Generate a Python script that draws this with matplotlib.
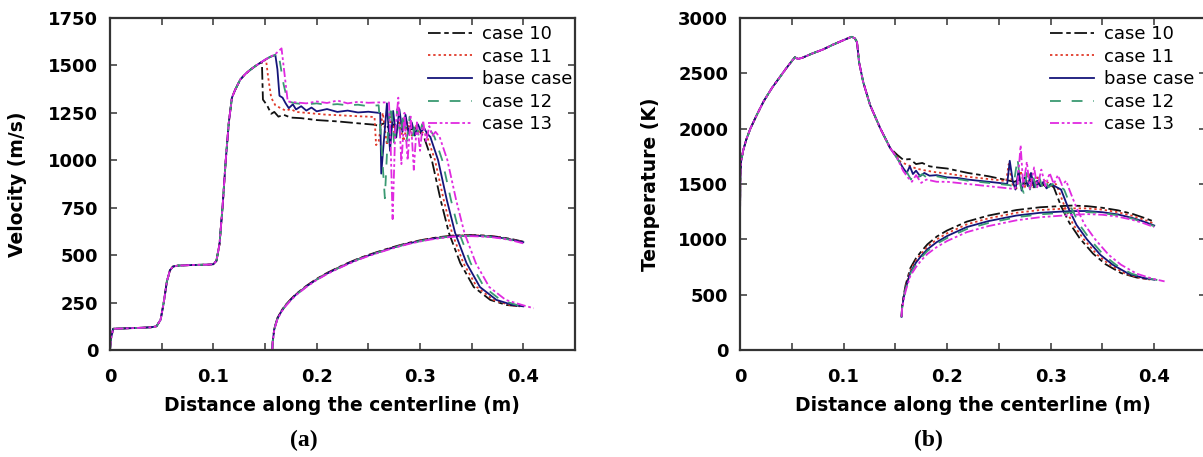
import matplotlib
matplotlib.use("Agg")
import matplotlib.pyplot as plt

# ---------------- data ----------------
labels = ["case 10", "case 11", "base case", "case 12", "case 13"]

# Velocity (panel a): shared upstream part
vx_pre = [0.0, 0.001, 0.003, 0.01, 0.02, 0.03, 0.04, 0.045, 0.049, 0.052, 0.055, 0.058, 0.061,
          0.066, 0.08, 0.095, 0.1, 0.103, 0.106, 0.109, 0.112, 0.115, 0.118, 0.121, 0.126,
          0.131, 0.136, 0.141, 0.145]
vy_pre = [0, 60, 112, 113, 115, 117, 120, 125, 160, 250, 360, 420, 440, 445, 448, 450, 452,
          470, 560, 760, 1000, 1200, 1330, 1370, 1425, 1455, 1478, 1498, 1512]

vx_c10 = [0.147, 0.148, 0.152, 0.156, 0.159, 0.163, 0.168, 0.175, 0.185, 0.2, 0.22, 0.24, 0.255,
          0.26, 0.265, 0.27, 0.275, 0.28, 0.285, 0.29, 0.295, 0.3, 0.304, 0.3115, 0.32, 0.328,
          0.339, 0.352, 0.368, 0.384, 0.394]
vy_c10 = [1518, 1320, 1290, 1245, 1255, 1230, 1240, 1225, 1222, 1212, 1205, 1195, 1188, 1182,
          1195, 1170, 1190, 1165, 1180, 1160, 1172, 1150, 1120, 1000, 790, 617, 458, 332, 264,
          237, 232]

vx_c11 = [0.148, 0.151, 0.153, 0.156, 0.16, 0.165, 0.17, 0.175, 0.18, 0.19, 0.2, 0.21, 0.22, 0.23,
          0.24, 0.25, 0.256, 0.2575, 0.26, 0.264, 0.268, 0.272, 0.276, 0.28, 0.284, 0.288, 0.292,
          0.296, 0.3, 0.304, 0.307, 0.3145, 0.323, 0.331, 0.342, 0.355, 0.371, 0.387, 0.397]
vy_c11 = [1520, 1530, 1440, 1330, 1290, 1275, 1262, 1270, 1255, 1250, 1245, 1240, 1238, 1235,
          1232, 1230, 1228, 1080, 1100, 1250, 1080, 1230, 1120, 1210, 1100, 1200, 1130, 1180,
          1140, 1150, 1123, 1001, 790, 617, 458, 332, 264, 237, 230]

vx_base = [0.15, 0.155, 0.16, 0.162, 0.164, 0.167, 0.17, 0.173, 0.177, 0.18, 0.185, 0.19, 0.195,
           0.2, 0.21, 0.22, 0.23, 0.24, 0.25, 0.26, 0.2615, 0.2625, 0.265, 0.268, 0.271, 0.274,
           0.277, 0.28, 0.283, 0.286, 0.289, 0.292, 0.295, 0.298, 0.301, 0.304, 0.307, 0.31,
           0.3175, 0.326, 0.334, 0.345, 0.358, 0.374, 0.39, 0.4]
vy_base = [1530, 1545, 1555, 1480, 1340, 1330, 1300, 1275, 1295, 1268, 1285, 1262, 1278, 1258,
           1270, 1255, 1262, 1252, 1256, 1250, 1250, 930, 1100, 1300, 1050, 1260, 1120, 1270,
           1150, 1240, 1140, 1200, 1130, 1190, 1150, 1170, 1140, 1123, 1001, 790, 617, 458, 332,
           264, 237, 230]

vx_c12 = [0.15, 0.155, 0.16, 0.163, 0.168, 0.172, 0.18, 0.19, 0.2, 0.21, 0.22, 0.23, 0.24, 0.25,
          0.26, 0.263, 0.266, 0.269, 0.272, 0.275, 0.278, 0.281, 0.284, 0.287, 0.29, 0.293,
          0.296, 0.299, 0.302, 0.305, 0.308, 0.311, 0.314, 0.3215, 0.33, 0.338, 0.349, 0.362,
          0.378, 0.394, 0.403]
vy_c12 = [1530, 1545, 1555, 1565, 1400, 1310, 1300, 1295, 1300, 1292, 1296, 1290, 1293, 1285,
          1290, 1050, 800, 1150, 1290, 1080, 1270, 1120, 1250, 1100, 1230, 1130, 1210, 1120,
          1190, 1150, 1170, 1150, 1123, 1001, 790, 617, 458, 332, 264, 237, 228]

vx_c13 = [0.15, 0.155, 0.16, 0.166, 0.169, 0.172, 0.18, 0.19, 0.2, 0.21, 0.22, 0.23, 0.24, 0.25,
          0.26, 0.27, 0.2715, 0.2735, 0.276, 0.279, 0.282, 0.285, 0.288, 0.291, 0.294, 0.297,
          0.3, 0.303, 0.306, 0.309, 0.312, 0.315, 0.319, 0.3265, 0.335, 0.343, 0.354, 0.367,
          0.383, 0.399, 0.41]
vy_c13 = [1530, 1545, 1560, 1590, 1450, 1310, 1305, 1300, 1310, 1302, 1315, 1300, 1308, 1303,
          1305, 1305, 1100, 690, 1150, 1330, 980, 1250, 1000, 1230, 950, 1200, 1050, 1210, 1100,
          1180, 1130, 1150, 1123, 1001, 790, 617, 458, 332, 264, 237, 220]

# Velocity lower branch
vx_low = [0.157, 0.1575, 0.159, 0.162, 0.166, 0.17, 0.175, 0.18, 0.19, 0.2, 0.21, 0.22, 0.23,
          0.24, 0.25, 0.26, 0.27, 0.28, 0.29, 0.3, 0.31, 0.32, 0.33, 0.34, 0.35, 0.36, 0.37,
          0.38, 0.39, 0.4]
vlow_c10 = [0, 47, 113, 168, 208, 238, 268, 295, 338, 375, 406, 433, 458, 481, 501, 519, 536,
            552, 566, 578, 588, 596, 602, 605, 606, 604, 600, 593, 583, 571]
vlow_c11 = [0, 46, 112, 167, 207, 237, 267, 294, 337, 374, 405, 432, 457, 480, 500, 518, 535,
            551, 565, 577, 587, 595, 601, 604, 605, 603, 599, 592, 582, 570]
vlow_base = [0, 45, 110, 165, 205, 235, 265, 292, 335, 372, 403, 430, 455, 478, 498, 516, 533,
             549, 563, 575, 585, 593, 599, 602, 603, 601, 597, 590, 580, 568]
vlow_c12 = [0, 44, 109, 164, 204, 234, 264, 291, 334, 371, 402, 429, 454, 477, 497, 515, 532,
            548, 562, 574, 584, 592, 598, 601, 602, 600, 596, 589, 578, 565]
vlow_c13 = [0, 43, 108, 162, 202, 232, 262, 289, 332, 369, 400, 427, 452, 475, 495, 513, 530,
            546, 560, 572, 582, 590, 596, 599, 600, 598, 594, 587, 576, 562]

# Temperature (panel b): shared upstream part
tx_pre = [0.0, 0.0003, 0.001, 0.003, 0.006, 0.01, 0.016, 0.023, 0.031, 0.038, 0.045, 0.05,
          0.053, 0.056, 0.06, 0.07, 0.08, 0.09, 0.1, 0.105, 0.108, 0.111, 0.113, 0.115, 0.119,
          0.1256, 0.1353, 0.145]
ty_pre = [1150, 1550, 1700, 1800, 1900, 2000, 2120, 2250, 2370, 2460, 2550, 2610, 2645, 2630,
          2640, 2680, 2715, 2760, 2800, 2820, 2830, 2815, 2780, 2600, 2420, 2214, 2006, 1825]

tx_c10 = [0.152, 0.1575, 0.164, 0.17, 0.176, 0.183, 0.19, 0.2, 0.21, 0.22, 0.23, 0.24, 0.25,
          0.26, 0.265, 0.27, 0.275, 0.28, 0.285, 0.29, 0.295, 0.3, 0.303, 0.31, 0.318, 0.328,
          0.341, 0.353, 0.368, 0.383, 0.395]
ty_c10 = [1762, 1720, 1725, 1680, 1690, 1660, 1650, 1640, 1620, 1600, 1585, 1570, 1550, 1530,
          1520, 1540, 1500, 1530, 1490, 1510, 1480, 1490, 1470, 1300, 1150, 1010, 870, 775, 695,
          655, 640]

tx_c11 = [0.152, 0.155, 0.16, 0.165, 0.17, 0.18, 0.19, 0.2, 0.21, 0.22, 0.23, 0.24, 0.25, 0.257,
          0.2595, 0.263, 0.267, 0.271, 0.275, 0.279, 0.283, 0.287, 0.291, 0.295, 0.3, 0.305,
          0.307, 0.314, 0.322, 0.332, 0.345, 0.357, 0.372, 0.387, 0.397]
ty_c11 = [1745, 1700, 1680, 1660, 1640, 1620, 1605, 1595, 1580, 1565, 1555, 1545, 1535, 1525,
          1680, 1500, 1460, 1620, 1470, 1600, 1460, 1560, 1480, 1540, 1480, 1500, 1460, 1283,
          1130, 1000, 860, 770, 690, 650, 635]

tx_base = [0.1517, 0.1575, 0.161, 0.164, 0.167, 0.17, 0.174, 0.178, 0.183, 0.19, 0.2, 0.21,
           0.22, 0.23, 0.24, 0.25, 0.258, 0.2605, 0.2635, 0.266, 0.269, 0.272, 0.275, 0.278,
           0.281, 0.284, 0.287, 0.29, 0.293, 0.296, 0.3, 0.304, 0.31, 0.317, 0.325, 0.335,
           0.348, 0.36, 0.375, 0.39, 0.4]
ty_base = [1735, 1645, 1600, 1660, 1590, 1620, 1570, 1600, 1575, 1580, 1560, 1555, 1540, 1530,
           1520, 1510, 1500, 1710, 1520, 1450, 1620, 1440, 1560, 1480, 1600, 1470, 1530, 1480,
           1520, 1460, 1500, 1480, 1450, 1283, 1130, 1000, 860, 770, 690, 650, 635]

tx_c12 = [0.1517, 0.1575, 0.161, 0.165, 0.168, 0.172, 0.176, 0.18, 0.19, 0.2, 0.21, 0.22, 0.23,
          0.24, 0.25, 0.26, 0.264, 0.268, 0.271, 0.274, 0.277, 0.28, 0.283, 0.286, 0.289, 0.292,
          0.295, 0.298, 0.302, 0.306, 0.31, 0.313, 0.32, 0.328, 0.338, 0.351, 0.363, 0.378,
          0.393, 0.403]
ty_c12 = [1735, 1645, 1610, 1540, 1600, 1560, 1590, 1560, 1570, 1550, 1545, 1530, 1520, 1510,
          1500, 1490, 1480, 1730, 1480, 1420, 1600, 1450, 1580, 1460, 1560, 1470, 1530, 1470,
          1500, 1460, 1470, 1450, 1283, 1130, 1000, 860, 770, 690, 650, 632]

tx_c13 = [0.1517, 0.1575, 0.162, 0.166, 0.17, 0.175, 0.18, 0.19, 0.2, 0.21, 0.22, 0.23, 0.24,
          0.25, 0.26, 0.265, 0.268, 0.271, 0.2735, 0.277, 0.28, 0.284, 0.287, 0.291, 0.295,
          0.299, 0.303, 0.307, 0.311, 0.315, 0.318, 0.325, 0.333, 0.343, 0.356, 0.368, 0.383,
          0.398, 0.41]
ty_c13 = [1735, 1620, 1560, 1520, 1580, 1510, 1540, 1520, 1520, 1510, 1500, 1490, 1480, 1470,
          1460, 1455, 1500, 1850, 1480, 1700, 1450, 1650, 1470, 1630, 1480, 1600, 1500, 1580,
          1490, 1530, 1450, 1283, 1130, 1000, 860, 770, 690, 645, 620]

# Temperature lower branch
tx_low = [0.156, 0.1565, 0.158, 0.16, 0.1645, 0.17, 0.175, 0.181, 0.19, 0.2, 0.219, 0.24, 0.267,
          0.29, 0.309, 0.32, 0.335, 0.35, 0.365, 0.379, 0.39, 0.4]
tlow_c10 = [300, 390, 490, 590, 740, 830, 890, 955, 1025, 1080, 1160, 1215, 1265, 1290, 1300,
            1305, 1300, 1285, 1262, 1230, 1195, 1160]
tlow_c11 = [300, 385, 480, 575, 720, 810, 870, 932, 1000, 1055, 1135, 1190, 1240, 1265, 1275,
            1280, 1280, 1268, 1245, 1212, 1178, 1142]
tlow_base = [300, 380, 470, 560, 700, 790, 850, 910, 975, 1030, 1111, 1165, 1215, 1240, 1250,
             1255, 1256, 1245, 1225, 1193, 1160, 1125]
tlow_c12 = [300, 375, 460, 550, 690, 775, 835, 895, 960, 1012, 1093, 1148, 1200, 1226, 1238,
            1243, 1246, 1237, 1217, 1186, 1153, 1118]
tlow_c13 = [300, 370, 450, 535, 670, 750, 810, 868, 930, 985, 1065, 1120, 1172, 1200, 1213,
            1220, 1228, 1222, 1205, 1176, 1145, 1110]

v_upper = [(vx_c10, vy_c10), (vx_c11, vy_c11), (vx_base, vy_base), (vx_c12, vy_c12), (vx_c13, vy_c13)]
v_lower = [vlow_c10, vlow_c11, vlow_base, vlow_c12, vlow_c13]
t_upper = [(tx_c10, ty_c10), (tx_c11, ty_c11), (tx_base, ty_base), (tx_c12, ty_c12), (tx_c13, ty_c13)]
t_lower = [tlow_c10, tlow_c11, tlow_base, tlow_c12, tlow_c13]

# ---------------- styles ----------------
colors = ["#111111", "#e03a2a", "#15157a", "#3a9a72", "#e02ae0"]
styles = [(0, (7, 2, 2.5, 2)), (0, (1.3, 1.6)), "-", (0, (6, 6)), (0, (5, 1.5, 1.5, 1.5, 1.5, 1.5))]
LW = 1.3

plt.rcParams['font.family'] = ['DejaVu Sans']

fig = plt.figure(figsize=(12.03, 4.57), dpi=100)
W, H = 1203.0, 457.0
axA = fig.add_axes([110 / W, 1 - 350 / H, 465 / W, 332 / H])
axB = fig.add_axes([740 / W, 1 - 350 / H, 466 / W, 332 / H])


def style_axes(ax, ymax, ystep):
    ax.set_xlim(0, 0.45)
    ax.set_ylim(0, ymax)
    ax.set_xticks([0, 0.05, 0.1, 0.15, 0.2, 0.25, 0.3, 0.35, 0.4])
    ax.set_xticklabels(["0", "", "0.1", "", "0.2", "", "0.3", "", "0.4"])
    yt = list(range(0, ymax + 1, ystep))
    ax.set_yticks(yt)
    ax.set_yticklabels([str(v) for v in yt])
    ax.tick_params(direction="in", top=True, right=True, length=5, width=1.1,
                   color="#333333", labelsize=13)
    ax.tick_params(axis="x", pad=13)
    ax.tick_params(axis="y", pad=8.5)
    for lab in ax.get_xticklabels() + ax.get_yticklabels():
        lab.set_fontweight("bold")
    for sp in ax.spines.values():
        sp.set_linewidth(1.6)
        sp.set_color("#333333")


for i in range(5):
    xs, ys = v_upper[i]
    axA.plot(vx_pre + xs, vy_pre + ys, color=colors[i], linestyle=styles[i], lw=LW, label=labels[i])
    axA.plot(vx_low, v_lower[i], color=colors[i], linestyle=styles[i], lw=LW)
    xs, ys = t_upper[i]
    axB.plot(tx_pre + xs, ty_pre + ys, color=colors[i], linestyle=styles[i], lw=LW, label=labels[i])
    axB.plot(tx_low, t_lower[i], color=colors[i], linestyle=styles[i], lw=LW)

style_axes(axA, 1750, 250)
style_axes(axB, 3000, 500)

for ax, xa in ((axA, 0.684), (axB, 0.665)):
    ax.legend(loc="upper left", bbox_to_anchor=(xa, 0.978), frameon=False, fontsize=13,
              handlelength=2.45, handletextpad=0.55, labelspacing=0.25, borderpad=0,
              borderaxespad=0)

fig.text(342 / W, 1 - 411 / H, "Distance along the centerline (m)", ha="center", va="baseline",
         fontsize=13.5, fontweight="bold")
fig.text(973 / W, 1 - 411 / H, "Distance along the centerline (m)", ha="center", va="baseline",
         fontsize=13.5, fontweight="bold")
fig.text(18 / W, 1 - 184 / H, "Velocity (m/s)", ha="center", va="center", rotation=90,
         fontsize=13.5, fontweight="bold")
fig.text(650 / W, 1 - 184 / H, "Temperature (K)", ha="center", va="center", rotation=90,
         fontsize=13.5, fontweight="bold")
fig.text(304 / W, 1 - 440 / H, "(a)", ha="center", va="center", fontsize=17, fontweight="bold",
         family=["Liberation Serif", "DejaVu Serif"])
fig.text(928 / W, 1 - 440 / H, "(b)", ha="center", va="center", fontsize=17, fontweight="bold",
         family=["Liberation Serif", "DejaVu Serif"])

fig.savefig("out.png", dpi=100)
